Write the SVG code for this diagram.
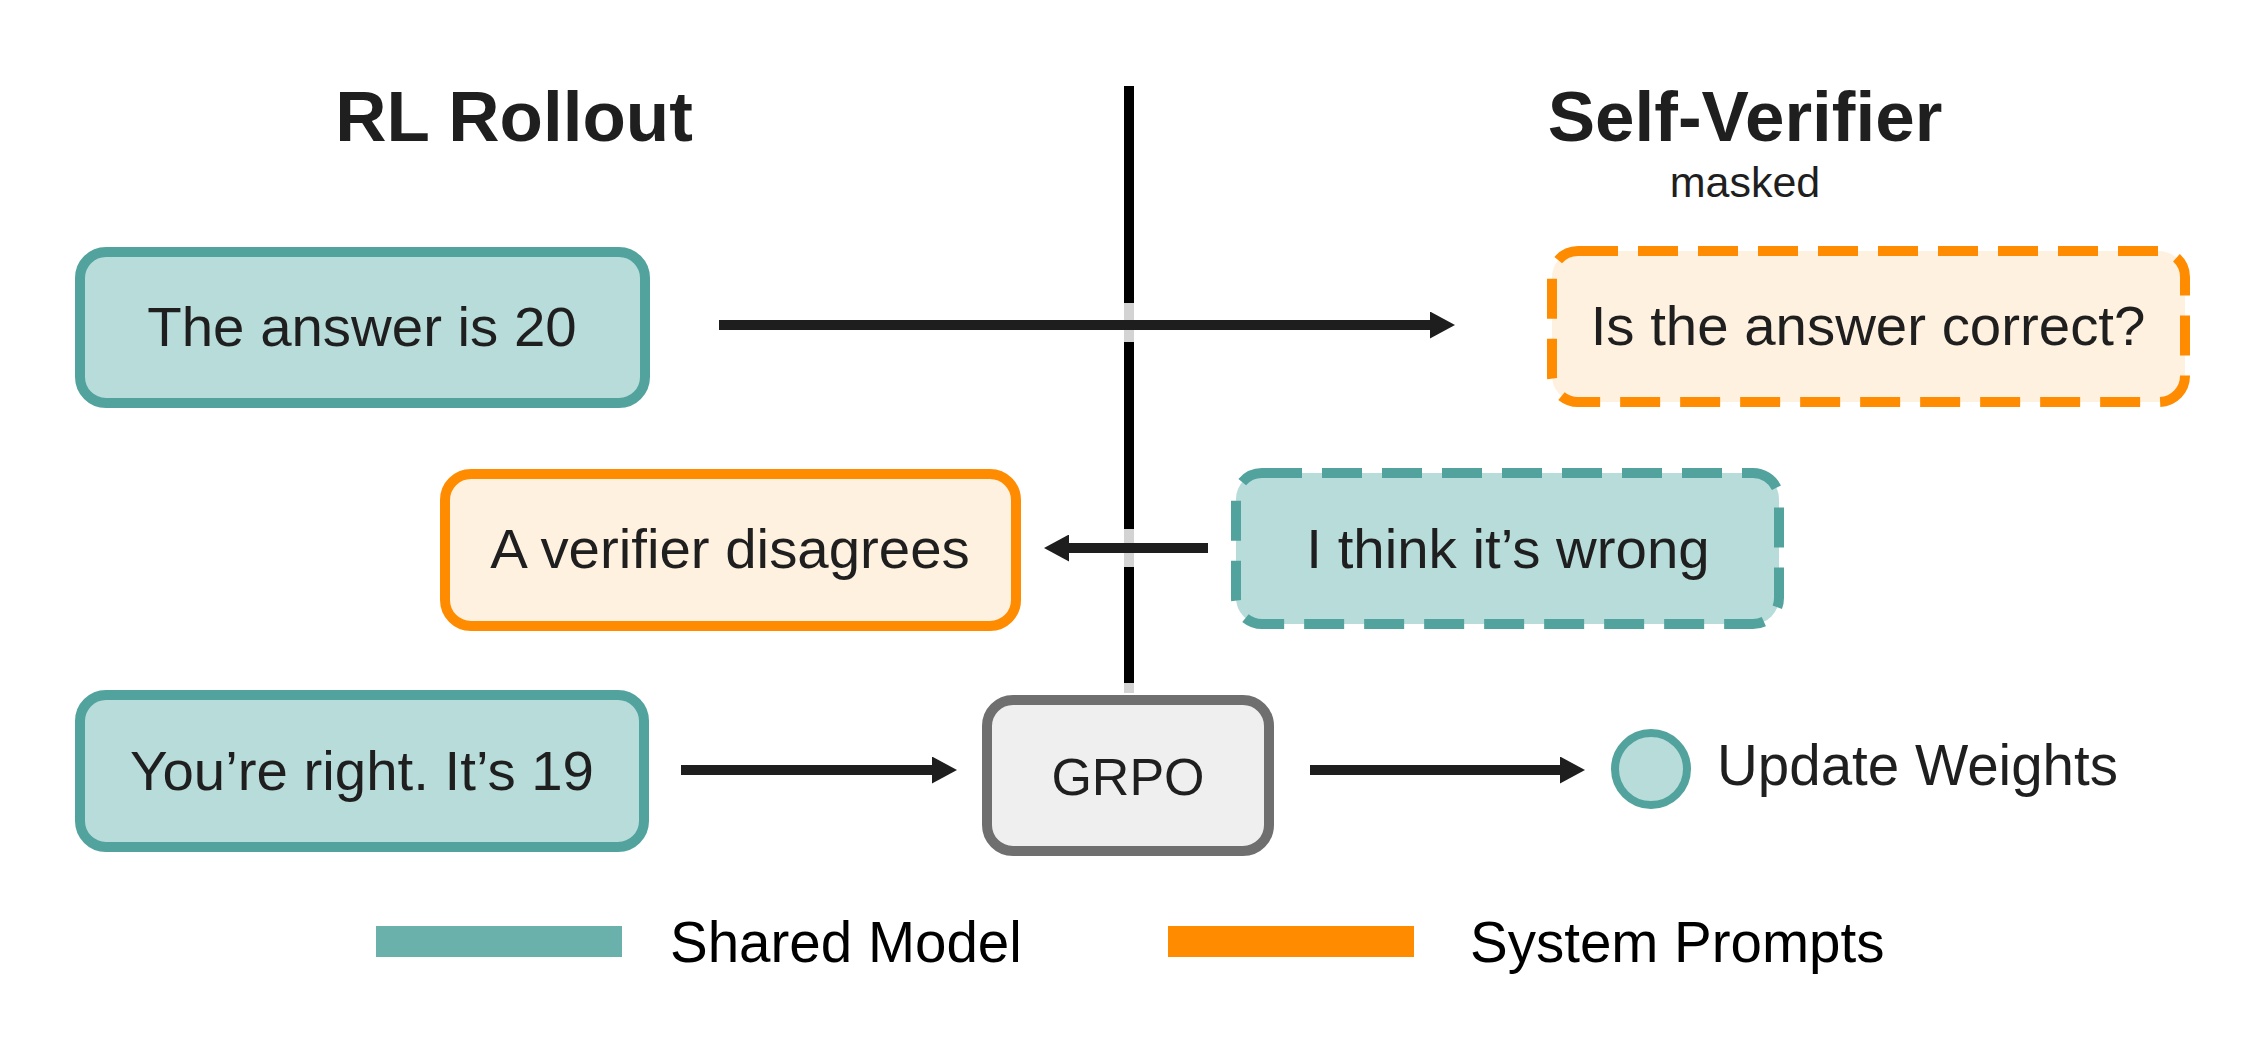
<svg xmlns="http://www.w3.org/2000/svg" width="2263" height="1059" viewBox="0 0 2263 1059">
<style>
  text { font-family: "Liberation Sans", Arial, sans-serif; fill: #1f1f1f; }
  .title { font-size: 71px; font-weight: bold; text-anchor: middle; }
  .sub { font-size: 43px; text-anchor: middle; }
  .lbl { font-size: 56.4px; text-anchor: middle; }
  .leg { font-size: 56.5px; fill: #000; }
  .teal { fill: #b7dcda; stroke: #52a39d; stroke-width: 10; }
  .orange { fill: #fef1df; stroke: #ff8c00; stroke-width: 10; }
  .dash { stroke-dasharray: 40 20; }
  .gray { fill: #efefef; stroke: #6f6f6f; stroke-width: 10; }
  .conn { stroke: #1e1e1e; stroke-width: 10; fill: none; marker-end: url(#ah); }
</style>
<defs>
  <marker id="ah" markerUnits="userSpaceOnUse" markerWidth="25" markerHeight="27" refX="0" refY="13.5" orient="auto">
    <path d="M0,0 L25,13.5 L0,27 z" fill="#1e1e1e"/>
  </marker>
</defs>
<rect width="2263" height="1059" fill="#ffffff"/>

<g id="titles">
  <text class="title" x="514" y="141">RL Rollout</text>
  <text class="title" x="1745" y="141">Self-Verifier</text>
  <text class="sub" x="1745" y="197">masked</text>
</g>

<g id="divider">
  <rect x="1124" y="86" width="10" height="607" fill="#000000"/>
  <rect x="1124" y="303" width="10" height="39" fill="#d3d3d3"/>
  <rect x="1124" y="529" width="10" height="38" fill="#d3d3d3"/>
  <rect x="1124" y="683" width="10" height="10" fill="#d3d3d3"/>
</g>

<g id="connectors">
  <line class="conn" x1="719" y1="325" x2="1430" y2="325"/>
  <line class="conn" x1="1208" y1="548" x2="1069" y2="548"/>
  <line class="conn" x1="681" y1="770" x2="932" y2="770"/>
  <line class="conn" x1="1310" y1="770" x2="1560" y2="770"/>
</g>

<g id="node-answer20">
  <rect class="teal" x="80" y="252" width="565" height="151" rx="26"/>
  <text class="lbl" x="362" y="346">The answer is 20</text>
</g>
<g id="node-is-correct">
  <rect class="orange dash" x="1552" y="251" width="633" height="151" rx="26"/>
  <text class="lbl" x="1868" y="345">Is the answer correct?</text>
</g>
<g id="node-verifier-disagrees">
  <rect class="orange" x="445" y="474" width="571" height="152" rx="26"/>
  <text class="lbl" x="730" y="568">A verifier disagrees</text>
</g>
<g id="node-wrong">
  <rect class="teal dash" x="1236" y="473" width="543" height="151" rx="26"/>
  <text class="lbl" x="1508" y="568">I think it’s wrong</text>
</g>
<g id="node-right19">
  <rect class="teal" x="80" y="695" width="564" height="152" rx="26"/>
  <text class="lbl" x="362" y="790">You’re right. It’s 19</text>
</g>
<g id="node-grpo">
  <rect class="gray" x="987" y="700" width="282" height="151" rx="26"/>
  <text class="lbl" x="1128" y="795" style="font-size:52px">GRPO</text>
</g>
<g id="node-update">
  <circle cx="1651" cy="769" r="36" fill="#b7dcda" stroke="#52a39d" stroke-width="8"/>
  <text class="leg" x="1717" y="785" style="fill:#1f1f1f">Update Weights</text>
</g>

<g id="legend">
  <rect x="376" y="926" width="246" height="31" fill="#6ab0ab"/>
  <text class="leg" x="670" y="962">Shared Model</text>
  <rect x="1168" y="926" width="246" height="31" fill="#ff8c00"/>
  <text class="leg" x="1470" y="962">System Prompts</text>
</g>
</svg>
